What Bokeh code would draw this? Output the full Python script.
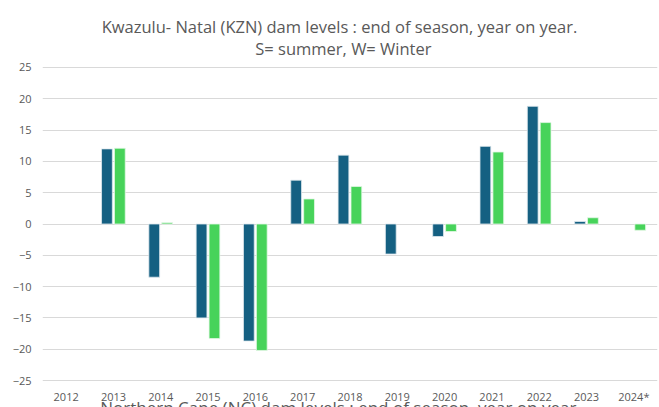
from bokeh.plotting import figure
from bokeh.models import ColumnDataSource, FactorRange, FixedTicker
from bokeh.transform import dodge
from bokeh.embed import file_html
from bokeh.resources import INLINE
from bokeh.core.properties import value

years = ["2012", "2013", "2014", "2015", "2016", "2017", "2018",
         "2019", "2020", "2021", "2022", "2023", "2024*"]
summer = [float("nan"), 12.0, -8.5, -15.0, -18.7, 7.0, 11.0,
          -4.8, -2.0, 12.4, 18.8, 0.4, float("nan")]
winter = [float("nan"), 12.1, 0.2, -18.3, -20.2, 4.0, 6.0,
          float("nan"), -1.2, 11.5, 16.2, 1.0, -1.0]
y_ticks = [-25, -20, -15, -10, -5, 0, 5, 10, 15, 20, 25]

title_1 = "Kwazulu- Natal (KZN) dam levels : end of season, year on year."
title_2 = "S= summer, W= Winter"
next_title = "Northern  Cape (NC) dam levels : end of season, year on year"

FONT = "Open Sans"
GREY = "#595959"

src = ColumnDataSource(data=dict(year=years, summer=summer, winter=winter))

p = figure(x_range=FactorRange(*years), y_range=(-29.31, 35.70),
           width=659, height=407, output_backend="svg", toolbar_location=None,
           min_border_left=42, min_border_right=2, min_border_top=0, min_border_bottom=0)
p.outline_line_color = None
p.background_fill_color = "white"
p.border_fill_color = "white"

p.vbar(x=dodge("year", -0.138, range=p.x_range), top="summer", bottom=0, width=0.228,
       source=src, fill_color="#156082", line_color="#dfe9ee", line_width=0.8)
p.vbar(x=dodge("year", 0.135, range=p.x_range), top="winter", bottom=0, width=0.228,
       source=src, fill_color="#47d35a", line_color="#e3f7e6", line_width=0.8)

p.yaxis.ticker = FixedTicker(ticks=y_ticks)
p.yaxis.axis_line_color = None
p.yaxis.major_tick_line_color = None
p.yaxis.minor_tick_line_color = None
p.yaxis.major_tick_out = 0
p.yaxis.major_label_standoff = 11
p.yaxis.major_label_text_font = FONT
p.yaxis.major_label_text_font_size = "11px"
p.yaxis.major_label_text_color = GREY

p.xaxis.fixed_location = -25
p.xaxis.axis_line_color = None
p.xaxis.major_tick_line_color = None
p.xaxis.major_tick_out = 0
p.xaxis.major_tick_in = 0
p.xaxis.major_label_standoff = 8
p.xaxis.major_label_text_font = FONT
p.xaxis.major_label_text_font_size = "11px"
p.xaxis.major_label_text_color = GREY

p.xgrid.grid_line_color = None
p.ygrid.grid_line_color = "#d9d9d9"
p.ygrid.grid_line_width = 1.2

p.text(x=[6.278], y=[31.60], text=[title_1], text_align="center", text_baseline="alphabetic",
       text_font=value(FONT), text_font_size="16.5px", text_color=GREY)
p.text(x=[6.36], y=[28.08], text=[title_2], text_align="center", text_baseline="alphabetic",
       text_font=value(FONT), text_font_size="16.5px", text_color=GREY)
p.text(x=[6.30], y=[-29.25], text=[next_title], text_align="center", text_baseline="alphabetic",
       text_font=value(FONT), text_font_size="17px", text_color=GREY)

open("out.html", "w").write(file_html(p, INLINE))
